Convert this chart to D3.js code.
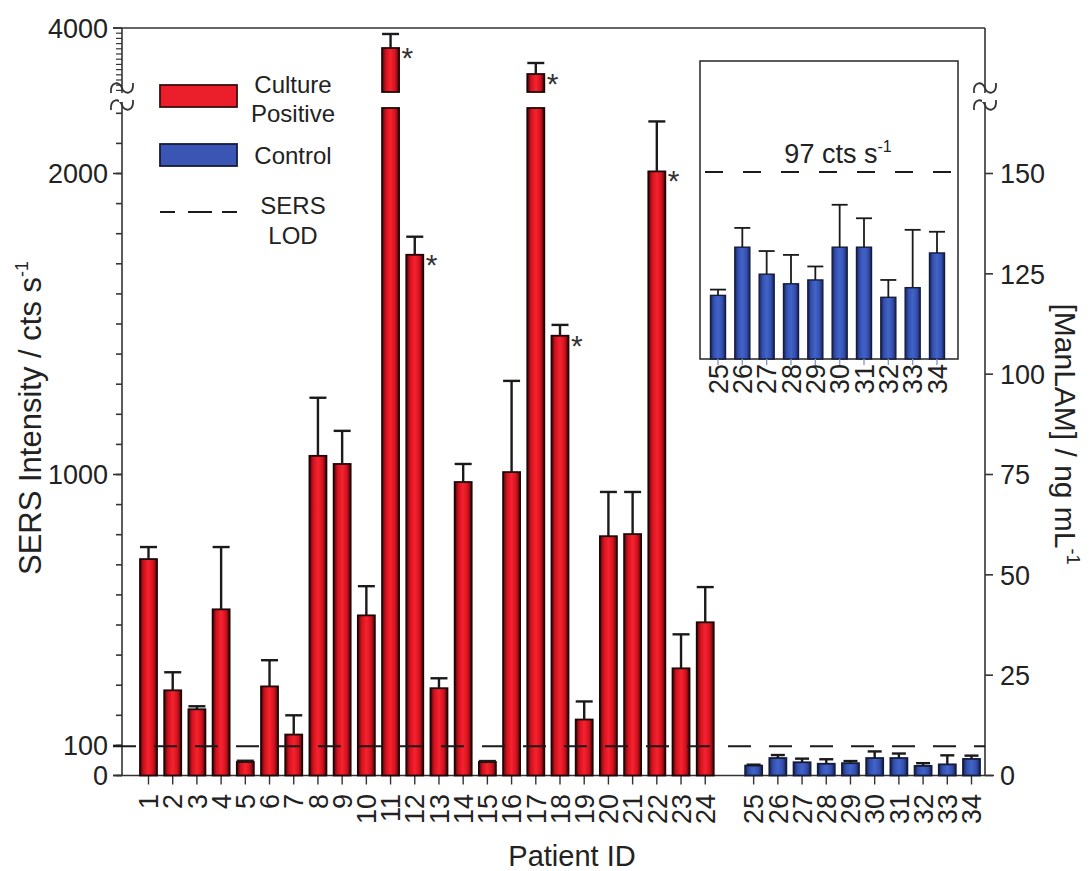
<!DOCTYPE html>
<html>
<head>
<meta charset="utf-8">
<script src="https://cdn.jsdelivr.net/npm/d3@7"></script>
<style>
  html, body { margin: 0; padding: 0; background: #ffffff; }
  svg { display: block; font-family: "Liberation Sans", Arial, sans-serif; }
</style>
</head>
<body>
<svg id="chart" width="1089" height="871"></svg>
<script>
// Culture-positive patients (SERS intensity, cts/s) with upward error bars
const positiveIds = d3.range(1, 25);
const positiveValues = [719, 283, 220, 552, 45, 296, 136, 1062, 1035, 532, 3615, 1730,
                        290, 975, 45, 1008, 3115, 1461, 186, 795, 802, 2007, 356, 509];
const positiveErrors = [40, 60, 10, 207, 4, 87, 64, 193, 110, 97, 270, 60,
                        33, 60, 3, 303, 212, 36, 60, 147, 140, 166, 113, 117];
// Controls
const controlIds = d3.range(25, 35);
const controlValues = [33, 58, 44, 39, 41, 58, 58, 32, 37, 55];
const controlErrors = [3, 10, 12, 15, 7, 22, 15, 9, 30, 11];
// Significant patients
const starredIds = [11, 12, 17, 18, 22];
// SERS limit of detection
const lodValue = 97;
const lodLabel = "97 cts s";
// Axis ticks
const leftTickLabels = [0, 100, 1000, 2000, 4000];
const rightTickLabels = [0, 25, 50, 75, 100, 125, 150];

const svg = d3.select("#chart");
const ink = "#222";

// Geometry of the plot frame
const frameLeft = 122, frameRight = 985, frameTop = 28, baseY = 775.5;
const breakLowTop = 108, breakHighBottom = 92;

// Two-segment broken y axis
const yLow = d3.scaleLinear().domain([0, 2000]).range([baseY, 173.5]);
const yHigh = d3.scaleLinear().domain([2800, 4000]).range([90.4, frameTop]);
const lowMax = yLow.invert(breakLowTop);
const yAny = v => v <= lowMax ? yLow(v) : yHigh(v);
const yRight = d3.scaleLinear().domain([0, 150]).range([baseY, 173.5]);

// Slot positions, with one empty slot between the two groups
const slotOf = id => id <= 24 ? id - 1 : id;
const x = d3.scaleLinear().domain([0, 34]).range([148.5, 971.5]);
const barW = 17;

// Gradients for the cylinder-like bar shading
const defs = svg.append("defs");
function barGradient(id, edge, mid, center) {
  const g = defs.append("linearGradient").attr("id", id)
    .attr("x1", "0%").attr("x2", "100%").attr("y1", "0%").attr("y2", "0%");
  [[0, edge], [0.22, mid], [0.5, center], [0.78, mid], [1, edge]].forEach(([o, c]) =>
    g.append("stop").attr("offset", o).attr("stop-color", c));
}
barGradient("redBar", "#4a060a", "#d0121e", "#f8222f");
barGradient("blueBar", "#18245a", "#3350b0", "#4263c8");

// ---- Frame and axes ----
const axisG = svg.append("g").attr("stroke", "#333").attr("stroke-width", 1.6).attr("fill", "none");
axisG.append("line").attr("x1", 113).attr("x2", frameRight).attr("y1", frameTop).attr("y2", frameTop);
axisG.append("line").attr("x1", frameLeft).attr("x2", frameLeft).attr("y1", frameTop).attr("y2", baseY);
axisG.append("line").attr("x1", frameRight).attr("x2", frameRight).attr("y1", frameTop).attr("y2", baseY);

// Left minor ticks (every 100 cts/s on both segments)
const lowMinor = d3.range(0, 2300, 100).filter(v => yLow(v) > breakLowTop + 4);
const highMinor = d3.range(2800, 4000, 100);
axisG.selectAll(".minL").data(lowMinor).join("line")
  .attr("x1", frameLeft - 6).attr("x2", frameLeft).attr("y1", d => yLow(d)).attr("y2", d => yLow(d));
axisG.selectAll(".minH").data(highMinor).join("line")
  .attr("x1", frameLeft - 6).attr("x2", frameLeft).attr("y1", d => yHigh(d)).attr("y2", d => yHigh(d))
  .attr("stroke-width", 1.2);
// Left major ticks
axisG.selectAll(".majL").data(leftTickLabels).join("line")
  .attr("x1", frameLeft - 9).attr("x2", frameLeft).attr("y1", d => yAny(d)).attr("y2", d => yAny(d));

// Left tick labels
svg.append("g").selectAll("text").data(leftTickLabels).join("text")
  .attr("x", 108).attr("y", d => yAny(d)).attr("dy", "0.36em")
  .attr("text-anchor", "end").attr("font-size", 27).attr("fill", ink)
  .text(d => d);

// Right ticks and labels (ManLAM concentration)
axisG.selectAll(".majR").data(rightTickLabels).join("line")
  .attr("x1", frameRight).attr("x2", frameRight + 8).attr("y1", d => yRight(d)).attr("y2", d => yRight(d));
svg.append("g").selectAll("text").data(rightTickLabels).join("text")
  .attr("x", 1000).attr("y", d => yRight(d)).attr("dy", "0.36em")
  .attr("text-anchor", "start").attr("font-size", 27).attr("fill", ink)
  .text(d => d);

// Break marks on both vertical axes
function breakMark(cx, cy) {
  return `M${cx - 11},${cy + 5} C${cx - 12},${cy - 7} ${cx - 2},${cy - 7} ${cx},${cy} ` +
         `C${cx + 2},${cy + 7} ${cx + 12},${cy + 7} ${cx + 11},${cy - 5}`;
}
const breakG = svg.append("g").attr("stroke", "#333").attr("stroke-width", 1.8).attr("fill", "none");
[frameLeft, frameRight].forEach(cx => {
  svg.append("rect").attr("x", cx - 3).attr("y", 93).attr("width", 6).attr("height", 9).attr("fill", "#fff");
  [88, 105].forEach(cy => breakG.append("path").attr("d", breakMark(cx, cy)));
});

// ---- Bars ----
const positive = positiveIds.map((id, i) => ({ id, v: positiveValues[i], e: positiveErrors[i] }));
const controls = controlIds.map((id, i) => ({ id, v: controlValues[i], e: controlErrors[i] }));

function drawBars(g, data, fillId, stroke) {
  data.forEach(d => {
    const cx = x(slotOf(d.id));
    const segs = d.v <= lowMax
      ? [[yLow(d.v), baseY]]
      : [[breakLowTop, baseY], [yHigh(d.v), breakHighBottom]];
    segs.forEach(([y0, y1]) => {
      g.append("rect")
        .attr("x", cx - barW / 2).attr("width", barW)
        .attr("y", y0).attr("height", y1 - y0)
        .attr("fill", `url(#${fillId})`)
        .attr("stroke", stroke).attr("stroke-width", 1.8);
    });
  });
}
function drawErrors(g, data, yFn, xFn, capW) {
  data.forEach(d => {
    const cx = xFn(d.id);
    const yt = yFn(d.v), yc = yFn(d.v + d.e);
    g.append("line").attr("x1", cx).attr("x2", cx).attr("y1", yt).attr("y2", yc);
    g.append("line").attr("x1", cx - capW / 2).attr("x2", cx + capW / 2).attr("y1", yc).attr("y2", yc);
  });
}

const barsG = svg.append("g");
drawBars(barsG, positive, "redBar", "#1e0505");
drawBars(barsG, controls, "blueBar", "#151c3a");
const errG = svg.append("g").attr("stroke", "#1a1a1a").attr("stroke-width", 2.4);
drawErrors(errG, positive, yAny, id => x(slotOf(id)), 17);
drawErrors(errG, controls, yLow, id => x(slotOf(id)), 14);

// Significance asterisks
svg.append("g").selectAll("text").data(positive.filter(d => starredIds.includes(d.id))).join("text")
  .attr("x", d => x(slotOf(d.id)) + 11).attr("y", d => yAny(d.v) + 20)
  .attr("font-size", 30).attr("fill", "#333")
  .text("*");

// LOD dashed line across the plot
svg.append("line")
  .attr("x1", 113).attr("x2", frameRight).attr("y1", yLow(lodValue)).attr("y2", yLow(lodValue))
  .attr("stroke", "#1a1a1a").attr("stroke-width", 2).attr("stroke-dasharray", "23,18");

// X axis and patient labels
axisG.append("line").attr("x1", 113).attr("x2", 994).attr("y1", baseY).attr("y2", baseY);
const allIds = positiveIds.concat(controlIds);
axisG.selectAll(".xt").data(allIds).join("line")
  .attr("x1", d => x(slotOf(d))).attr("x2", d => x(slotOf(d)))
  .attr("y1", baseY).attr("y2", baseY + 9).attr("stroke-width", 1.4);
svg.append("g").selectAll("text").data(allIds).join("text")
  .attr("transform", d => `translate(${x(slotOf(d))},794) rotate(-90)`)
  .attr("dy", "0.36em").attr("text-anchor", "end")
  .attr("font-size", 27).attr("fill", ink)
  .text(d => d);

// Axis titles
svg.append("text")
  .attr("transform", "translate(30,418) rotate(-90)")
  .attr("dy", "0.36em").attr("text-anchor", "middle").attr("font-size", 31).attr("fill", ink)
  .call(t => {
    t.append("tspan").text("SERS Intensity / cts s");
    t.append("tspan").attr("font-size", 18).attr("dy", -13).text("-1");
  });
svg.append("text")
  .attr("transform", "translate(1066,434) rotate(90)")
  .attr("dy", "0.36em").attr("text-anchor", "middle").attr("font-size", 30).attr("fill", ink)
  .call(t => {
    t.append("tspan").text("[ManLAM] / ng mL");
    t.append("tspan").attr("font-size", 18).attr("dy", -12).text("-1");
  });
svg.append("text")
  .attr("x", 572).attr("y", 866).attr("text-anchor", "middle")
  .attr("font-size", 29).attr("fill", ink).text("Patient ID");

// ---- Legend ----
const legG = svg.append("g");
legG.append("rect").attr("x", 160).attr("y", 85).attr("width", 77).attr("height", 22)
  .attr("fill", "#ea1f2b").attr("stroke", "#3a1010").attr("stroke-width", 1.8);
legG.append("rect").attr("x", 160).attr("y", 144).attr("width", 77).attr("height", 22)
  .attr("fill", "#3a55b4").attr("stroke", "#151c3a").attr("stroke-width", 1.8);
legG.append("line").attr("x1", 160).attr("x2", 237).attr("y1", 212).attr("y2", 212)
  .attr("stroke", "#1a1a1a").attr("stroke-width", 2).attr("stroke-dasharray", "15,13,24,10,15");
const legText = [["Culture", 84], ["Positive", 113], ["Control", 155], ["SERS", 205], ["LOD", 235]];
legG.selectAll("text").data(legText).join("text")
  .attr("x", 293).attr("y", d => d[1]).attr("dy", "0.36em").attr("text-anchor", "middle")
  .attr("font-size", 24).attr("fill", ink).text(d => d[0]);

// ---- Inset: controls on an expanded scale ----
const inset = { left: 700, right: 958, top: 61, bottom: 359 };
const xIn = d3.scaleLinear().domain([25, 34]).range([718, 937]);
const yIn = d3.scaleLinear().domain([0, lodValue]).range([inset.bottom, 172]);
const inG = svg.append("g");
inG.append("rect").attr("x", inset.left).attr("y", inset.top)
  .attr("width", inset.right - inset.left).attr("height", inset.bottom - inset.top)
  .attr("fill", "#fff").attr("stroke", "#333").attr("stroke-width", 1.6);
controls.forEach(d => {
  inG.append("rect")
    .attr("x", xIn(d.id) - 7.5).attr("width", 15)
    .attr("y", yIn(d.v)).attr("height", inset.bottom - yIn(d.v))
    .attr("fill", "url(#blueBar)").attr("stroke", "#151c3a").attr("stroke-width", 1.4);
});
const inErr = inG.append("g").attr("stroke", "#1a1a1a").attr("stroke-width", 1.8);
drawErrors(inErr, controls, yIn, xIn, 16);
inG.append("line").attr("x1", 705).attr("x2", 955).attr("y1", yIn(lodValue)).attr("y2", yIn(lodValue))
  .attr("stroke", "#1a1a1a").attr("stroke-width", 2).attr("stroke-dasharray", "18,20");
inG.append("text").attr("x", 838).attr("y", 163).attr("text-anchor", "middle")
  .attr("font-size", 27).attr("fill", ink)
  .call(t => {
    t.append("tspan").text(lodLabel);
    t.append("tspan").attr("font-size", 16).attr("dy", -11).text("-1");
  });
inG.selectAll(".it").data(controlIds).join("line")
  .attr("x1", d => xIn(d)).attr("x2", d => xIn(d))
  .attr("y1", inset.bottom).attr("y2", inset.bottom + 6)
  .attr("stroke", "#8a9ad0").attr("stroke-width", 1.4);
inG.selectAll("text.il").data(controlIds).join("text").attr("class", "il")
  .attr("transform", d => `translate(${xIn(d)},364) rotate(-90)`)
  .attr("dy", "0.36em").attr("text-anchor", "end")
  .attr("font-size", 27).attr("fill", ink)
  .text(d => d);
</script>
</body>
</html>
